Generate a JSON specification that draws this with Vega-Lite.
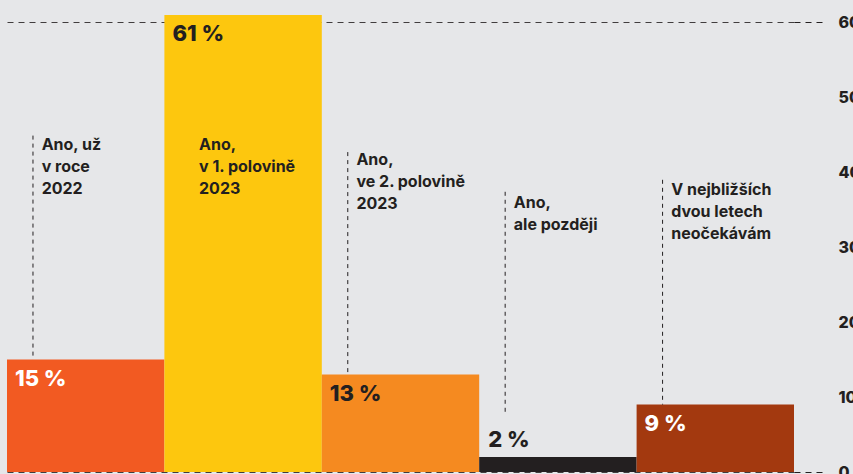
{
  "$schema": "https://vega.github.io/schema/vega-lite/v6.json",
  "width": 787,
  "height": 472,
  "autosize": {"type": "none"},
  "padding": {"left": 7, "top": 0, "right": 59, "bottom": 2},
  "background": "#E6E7E9",
  "config": {"view": {"stroke": null}, "font": "Inter"},
  "data": {
    "values": [
      {"cat": "Ano, už v roce 2022", "label": "Ano, už\nv roce\n2022", "pct": 15, "pctLabel": "15 %", "textY": 43.0, "lineTop": 44.9, "lineBottom": 15},
      {"cat": "Ano, v 1. polovině 2023", "label": "Ano,\nv 1. polovině\n2023", "pct": 61, "pctLabel": "61 %", "textY": 43.0, "lineTop": null, "lineBottom": null},
      {"cat": "Ano, ve 2. polovině 2023", "label": "Ano,\nve 2. polovině\n2023", "pct": 13, "pctLabel": "13 %", "textY": 41.0, "lineTop": 42.7, "lineBottom": 13},
      {"cat": "Ano, ale později", "label": "Ano,\nale později", "pct": 2, "pctLabel": "2 %", "textY": 35.2, "lineTop": 37.4, "lineBottom": 7.6},
      {"cat": "V nejbližších dvou letech neočekávám", "label": "V nejbližších\ndvou letech\nneočekávám", "pct": 9, "pctLabel": "9 %", "textY": 37.0, "lineTop": 39.0, "lineBottom": 9}
    ]
  },
  "encoding": {
    "x": {"field": "cat", "type": "nominal", "sort": null, "axis": null, "scale": {"paddingInner": 0, "paddingOuter": 0}}
  },
  "layer": [
    {
      "mark": {"type": "bar"},
      "encoding": {
        "y": {
          "field": "pct", "type": "quantitative",
          "scale": {"domain": [0, 63], "nice": false},
          "axis": {
            "orient": "right", "title": null, "values": [0, 10, 20, 30, 40, 50, 60],
            "domain": false,
            "labelFont": "Inter", "labelFontWeight": 800, "labelFontSize": 16, "labelColor": "#231F20",
            "labelPadding": 16, "labelBaseline": "middle", "labelAlign": "left", "labelFlush": false,
            "ticks": true, "tickSize": 28, "tickDash": [6, 5], "tickColor": "#231F20", "tickWidth": 1,
            "tickOpacity": {"condition": {"test": "datum.value == 0 || datum.value == 60", "value": 1}, "value": 0},
            "grid": true, "gridDash": [6, 5], "gridColor": "#231F20", "gridWidth": 1,
            "gridOpacity": {"condition": {"test": "datum.value == 0 || datum.value == 60", "value": 0.85}, "value": 0}
          }
        },
        "color": {
          "field": "cat", "type": "nominal", "legend": null,
          "scale": {
            "domain": ["Ano, už v roce 2022", "Ano, v 1. polovině 2023", "Ano, ve 2. polovině 2023", "Ano, ale později", "V nejbližších dvou letech neočekávám"],
            "range": ["#F25A22", "#FDC70E", "#F58A20", "#231F20", "#A3390F"]
          }
        }
      }
    },
    {
      "transform": [{"filter": "datum.lineTop != null"}],
      "mark": {"type": "rule", "strokeDash": [4, 4], "color": "#231F20", "strokeWidth": 1},
      "encoding": {
        "x": {"field": "cat", "type": "nominal", "sort": null, "bandPosition": 0.165},
        "y": {"field": "lineTop", "type": "quantitative", "title": null},
        "y2": {"field": "lineBottom"}
      }
    },
    {
      "mark": {"type": "text", "align": "left", "baseline": "alphabetic", "lineBreak": "\n", "lineHeight": 22, "fontSize": 16, "fontWeight": 700, "color": "#231F20", "font": "Inter"},
      "encoding": {
        "x": {"field": "cat", "type": "nominal", "sort": null, "bandPosition": 0.22},
        "y": {"field": "textY", "type": "quantitative", "title": null},
        "text": {"field": "label"}
      }
    },
    {
      "transform": [{"filter": "datum.pct != 2"}],
      "mark": {"type": "text", "align": "left", "baseline": "alphabetic", "dx": 8, "dy": 26, "fontSize": 22, "fontWeight": 800, "font": "Inter"},
      "encoding": {
        "x": {"field": "cat", "type": "nominal", "sort": null, "bandPosition": 0},
        "y": {"field": "pct", "type": "quantitative", "title": null},
        "text": {"field": "pctLabel"},
        "color": {"condition": {"test": "datum.pct == 15 || datum.pct == 9", "value": "#FFFFFF"}, "value": "#231F20"}
      }
    },
    {
      "transform": [{"filter": "datum.pct == 2"}],
      "mark": {"type": "text", "align": "left", "baseline": "alphabetic", "dx": 9, "dy": -10, "fontSize": 22, "fontWeight": 800, "font": "Inter", "color": "#231F20"},
      "encoding": {
        "x": {"field": "cat", "type": "nominal", "sort": null, "bandPosition": 0},
        "y": {"field": "pct", "type": "quantitative", "title": null},
        "text": {"field": "pctLabel"}
      }
    }
  ]
}
